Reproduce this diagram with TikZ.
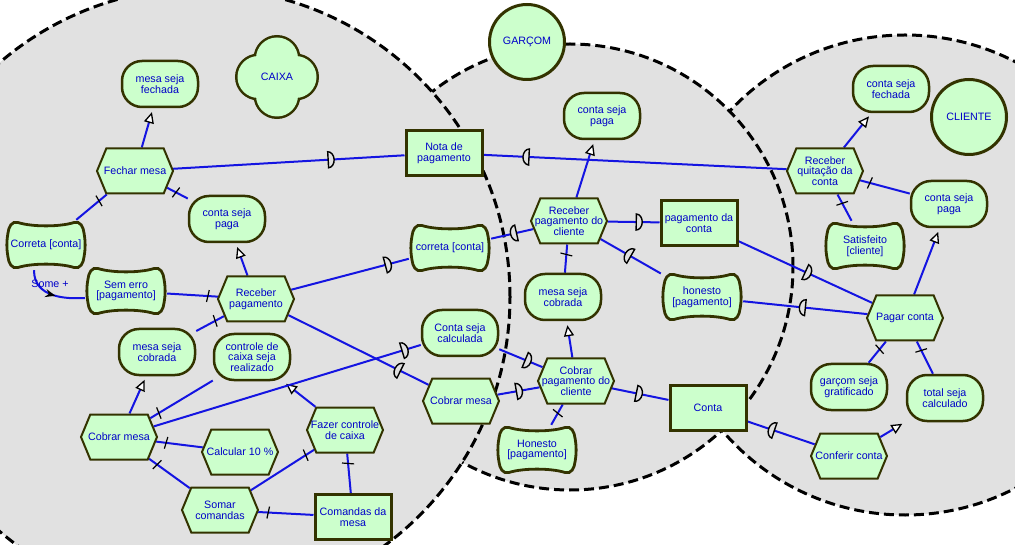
\documentclass[tikz,border=0pt]{standalone}
\usepackage{fontspec}
\setmainfont{Liberation Sans}
\usetikzlibrary{arrows.meta,shapes.symbols,decorations.markings}
\definecolor{nodegreen}{RGB}{204,255,204}
\definecolor{nodeborder}{RGB}{51,51,0}
\definecolor{textblue}{RGB}{0,0,200}
\definecolor{linkblue}{RGB}{20,20,225}
\definecolor{bggray}{RGB}{225,225,225}
\pgfdeclarelayer{bg}
\pgfdeclarelayer{lnk}
\pgfdeclarelayer{sg}
\pgfsetlayers{bg,lnk,sg,main}

\tikzset{
  elem/.style={font=\fontsize{10.7}{10.7}\selectfont, text=textblue, align=center, inner sep=1pt},
  goal/.style={elem, draw=nodeborder, fill=nodegreen, line width=2.5pt, rounded corners=20pt,
    minimum width=76pt, minimum height=46pt},
  task/.style={draw=nodeborder, fill=nodegreen, line width=2pt, shape=signal,
    signal to=east and west, signal pointer angle=135, inner sep=0pt,
    minimum width=76pt, minimum height=45pt},
  resource/.style={elem, draw=nodeborder, fill=nodegreen, line width=3pt,
    minimum width=76pt, minimum height=45pt},
  sgline/.style={draw=nodeborder, fill=nodegreen, line width=2.8pt},
  softgoal/.style={elem, minimum width=82pt, minimum height=50pt},
  actor/.style={elem, circle, draw=nodeborder, fill=nodegreen, line width=3pt, minimum size=75pt},
  boundary/.style={fill=bggray, draw=black, line width=3pt, dash pattern=on 10pt off 5pt},
  link/.style={draw=linkblue, line width=2pt},
  meansend/.style={link, shorten >=4pt,
    -{Triangle[color=black, fill=white, length=11pt, width=10pt, line width=1.3pt]}},
  decomp/.style={link, postaction={decorate, decoration={markings,
    mark=at position 10pt with {\draw[black, line width=1.2pt] (-1pt,-6pt) -- (1pt,6pt);}}}},
  dmark/.style={draw=black, fill=bggray, line width=1.4pt},
  dep/.style={link, postaction={decorate, decoration={markings,
    mark=at position #1 with {\draw[dmark] (0,-8pt) arc[start angle=-90, end angle=90, x radius=6pt, y radius=8pt] -- cycle;}}}},
  depr/.style={link, postaction={decorate, decoration={markings,
    mark=at position #1 with {\draw[dmark] (0,-8pt) arc[start angle=-90, end angle=-270, x radius=6pt, y radius=8pt] -- cycle;}}}},
  contrib/.style={link, postaction={decorate, decoration={markings,
    mark=at position 0.55 with {\arrow[black]{Stealth[length=10pt, width=8pt]}}}}},
}

\begin{document}
\begin{tikzpicture}[x=1pt, y=1pt]
  \useasboundingbox (0,0) rectangle (1015,-545);
  \clip (0,0) rectangle (1015,-545);

  % limites dos atores
  \begin{pgfonlayer}{bg}
    \draw[boundary] (905,-275) circle (240);
    \draw[boundary] (570,-267) circle (223);
    \draw[boundary] (201,-297) circle (309);
  \end{pgfonlayer}

  % atores
  \foreach \a in {0,90,180,270}
    \draw[draw=nodeborder, fill=nodegreen, line width=5pt] (277,-77) ++(\a:18.5) circle (21);
  \foreach \a in {0,90,180,270}
    \fill[nodegreen] (277,-77) ++(\a:18.5) circle (21);
  \node[elem] (caixa) at (277,-77) {CAIXA};
  \node[actor] (garcom) at (527,-42) {GARÇOM};
  \node[actor] (cliente) at (969,-117) {CLIENTE};

  % CAIXA
  \node[goal] (mesaFechada) at (160,-84) {mesa seja\\fechada};
  \node[task, label={[elem]center:Fechar mesa}] (fecharMesa) at (135,-171) {};
  \node[goal] (contaPagaCx) at (227,-219) {conta seja\\paga};
  \node[softgoal] (corretaConta) at (46,-245) {Correta [conta]};
  \node[softgoal] (semErro) at (126,-291) {Sem erro\\{[pagamento]}};
  \node[task, label={[elem]center:{Receber\\pagamento}}] (receberPag) at (256,-299) {};
  \node[goal] (mesaCobradaCx) at (157,-352) {mesa seja\\cobrada};
  \node[goal] (controleCaixa) at (252,-357) {controle de\\caixa seja\\realizado};
  \node[task, label={[elem]center:Cobrar mesa}] (cobrarMesaCx) at (119,-437) {};
  \node[task, label={[elem]center:Calcular 10 \%}] (calcular) at (240,-452) {};
  \node[task, label={[elem]center:{Fazer controle\\de caixa}}] (fazerControle) at (345,-430) {};
  \node[task, label={[elem]center:{Somar\\comandas}}] (somarComandas) at (220,-510) {};
  \node[resource] (comandasMesa) at (353,-517) {Comandas da\\mesa};
  \node[elem] (someMais) at (50,-284) {Some +};

  % dependums
  \node[resource] (notaPag) at (444,-153) {Nota de\\pagamento};
  \node[softgoal] (corretaConta2) at (450,-248) {correta [conta]};
  \node[goal] (contaCalculada) at (460,-333) {Conta seja\\calculada};
  \node[task, label={[elem]center:Cobrar mesa}] (cobrarMesaGa) at (461,-401) {};
  \node[resource] (pagamentoConta) at (699,-223) {pagamento da\\conta};
  \node[softgoal] (honestoPag) at (702,-297) {honesto\\{[pagamento]}};
  \node[resource] (conta) at (708,-408) {Conta};

  % GARÇOM
  \node[goal] (contaPagaGa) at (602,-116) {conta seja\\paga};
  \node[task, label={[elem]center:{Receber\\pagamento do\\cliente}}] (receberPagCli) at (569,-221) {};
  \node[goal] (mesaCobradaGa) at (563,-297) {mesa seja\\cobrada};
  \node[task, label={[elem]center:{Cobrar\\pagamento do\\cliente}}] (cobrarPagCli) at (576,-381) {};
  \node[softgoal] (honestoPag2) at (537,-450) {Honesto\\{[pagamento]}};

  % CLIENTE
  \node[goal] (contaFechada) at (891,-89) {conta seja\\fechada};
  \node[task, label={[elem]center:{Receber\\quitação da\\conta}}] (receberQuit) at (825,-171) {};
  \node[goal] (contaPagaCl) at (949,-204) {conta seja\\paga};
  \node[softgoal] (satisfeito) at (865,-246) {Satisfeito\\{[cliente]}};
  \node[task, label={[elem]center:Pagar conta}] (pagarConta) at (905,-318) {};
  \node[goal] (garcomGrat) at (849,-387) {garçom seja\\gratificado};
  \node[goal] (totalCalc) at (945,-398) {total seja\\calculado};
  \node[task, label={[elem]center:Conferir conta}] (conferirConta) at (849,-456) {};

  % contorno dos softgoals
  \begin{pgfonlayer}{sg}
    \foreach \n in {corretaConta,semErro,corretaConta2,honestoPag,honestoPag2,satisfeito}
      \draw[sgline, shift={(\n)}]
        (-28,22.5) .. controls (-14,18) and (14,18) .. (28,22.5)
        .. controls (34,24.5) and (37.5,18) .. (38,12)
        .. controls (39.5,4) and (39.5,-4) .. (38,-12)
        .. controls (37.5,-18) and (34,-24.5) .. (28,-22.5)
        .. controls (14,-18) and (-14,-18) .. (-28,-22.5)
        .. controls (-34,-24.5) and (-37.5,-18) .. (-38,-12)
        .. controls (-39.5,-4) and (-39.5,4) .. (-38,12)
        .. controls (-37.5,18) and (-34,24.5) .. (-28,22.5) -- cycle;
  \end{pgfonlayer}

  \begin{pgfonlayer}{lnk}
    % ligacoes do caixa
    \draw[meansend] (fecharMesa) -- (mesaFechada);
    \draw[decomp] (fecharMesa) -- (corretaConta);
    \draw[decomp] (fecharMesa) -- (contaPagaCx);
    \draw[meansend] (receberPag) -- (contaPagaCx);
    \draw[decomp] (receberPag) -- (semErro);
    \draw[decomp] (receberPag) -- (mesaCobradaCx);
    \draw[meansend] (cobrarMesaCx) -- (mesaCobradaCx);
    \draw[decomp] (cobrarMesaCx) -- (controleCaixa);
    \draw[decomp] (cobrarMesaCx) -- (calcular);
    \draw[decomp] (cobrarMesaCx) -- (somarComandas);
    \draw[meansend] (fazerControle) -- (controleCaixa);
    \draw[decomp] (fazerControle) -- (somarComandas);
    \draw[decomp] (fazerControle) -- (comandasMesa);
    \draw[decomp] (somarComandas) -- (comandasMesa);
    \draw[contrib] ([xshift=-12pt]corretaConta.south) .. controls +(0,-28) and +(-18,-1) .. ([yshift=-7pt]semErro.west);
    % dependencias
    \draw[dep=0.67] (fecharMesa) -- (notaPag);
    \draw[depr=0.15] (notaPag) -- (receberQuit);
    \draw[dep=0.8] (receberPag) -- (corretaConta2);
    \draw[depr=0.6] (corretaConta2) -- (receberPagCli);
    \draw[depr=0.8] (receberPag) -- (cobrarMesaGa);
    \draw[dep=0.45] (cobrarMesaGa) -- (cobrarPagCli);
    \draw[dep=0.93] (cobrarMesaCx) -- (contaCalculada);
    \draw[dep=0.6] (contaCalculada) -- (cobrarPagCli);
    \draw[dep=0.55] (receberPagCli) -- (pagamentoConta);
    \draw[depr=0.5] (receberPagCli) -- (honestoPag);
    \draw[dep=0.43] (cobrarPagCli) -- (conta);
    \draw[depr=0.4] (conta) -- (conferirConta);
    \draw[dep=0.5] (pagamentoConta) -- (pagarConta);
    \draw[depr=0.5] (honestoPag) -- (pagarConta);
    % ligacoes do garcom
    \draw[meansend] (receberPagCli) -- (contaPagaGa);
    \draw[decomp] (receberPagCli) -- (mesaCobradaGa);
    \draw[meansend] (cobrarPagCli) -- (mesaCobradaGa);
    \draw[decomp] (cobrarPagCli) -- (honestoPag2);
    % ligacoes do cliente
    \draw[meansend] (receberQuit) -- (contaFechada);
    \draw[decomp] (receberQuit) -- (contaPagaCl);
    \draw[decomp] (receberQuit) -- (satisfeito);
    \draw[meansend] (pagarConta) -- (contaPagaCl);
    \draw[decomp] (pagarConta) -- (garcomGrat);
    \draw[decomp] (pagarConta) -- (totalCalc);
    \draw[meansend] (conferirConta) -- (totalCalc);
  \end{pgfonlayer}
\end{tikzpicture}
\end{document}
